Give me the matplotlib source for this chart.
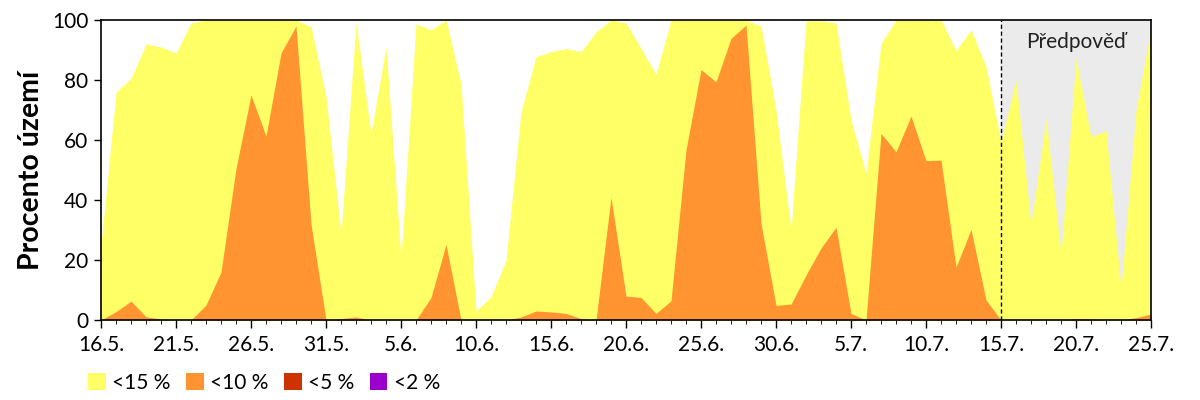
import numpy as np
import pandas as pd
import matplotlib
matplotlib.use("Agg")
import matplotlib.pyplot as plt
from matplotlib.patches import Patch

plt.rcParams["font.family"] = ["Lato", "DejaVu Sans"]

# daily values 16.5. - 25.7.
start_date = "2024-05-16"
forecast_start = 60  # index of 15.7.

below15 = [25, 76, 80.5, 92, 91, 89, 99, 100, 100, 100, 100, 100, 100, 100, 97.8, 74.4,
           28.7, 99.1, 62.2, 91, 20.6, 98.7, 96.7, 100, 78.7, 3, 7.8, 20, 69.4, 87.8,
           89.4, 90.5, 89.4, 96, 100, 99, 90.5, 81.9, 100, 100, 100, 100, 100, 100, 98,
           70, 30, 99.7, 99.7, 99, 66.7, 48.9, 92.2, 100, 100, 100, 100, 89.8, 96.7, 84.4,
           59.4, 80, 31.7, 67.2, 22.2, 87.2, 61.1, 63.1, 10.6, 70, 97.2]
below10 = [0, 2.8, 6.3, 1.1, 0.3, 0, 0, 5, 16, 50.5, 75, 61.3, 89, 98, 32, 0,
           0.5, 1, 0, 0, 0, 0, 7.5, 25.2, 0, 0, 0, 0, 1, 3,
           2.7, 2.2, 0.5, 0, 40.9, 8, 7.5, 2.2, 6.4, 56.7, 83.5, 79.4, 93.9, 98.3, 32.2,
           4.9, 5.3, 15, 24, 30.9, 2.2, 0, 62.2, 56.1, 68, 53.1, 53.3, 17.6, 30.2, 6.7,
           0, 0, 0, 0, 0, 0.5, 0.3, 0, 0, 0.8, 2]

labels = ["<15 %", "<10 %", "<5 %", "<2 %"]
colors = ["#FFFF66", "#FF9430", "#CC3300", "#9900CC"]

dates = pd.date_range(start_date, periods=len(below15))
days = np.arange(len(dates))

fig = plt.figure(figsize=(12, 4), dpi=100)
ax = fig.add_axes([101 / 1200, 80 / 400, 1050 / 1200, 300 / 400])

# forecast background
ax.axvspan(forecast_start, days[-1], color="#EBEBEB", lw=0, zorder=0)
ax.axvline(forecast_start, color="black", ls=(0, (3, 2)), lw=1, zorder=3)
ax.text((forecast_start + days[-1]) / 2, 92.5, "Předpověď", ha="center", va="center",
        fontsize=15, color="#222222", zorder=4)

ax.fill_between(days, 0, below15, color=colors[0], lw=0, zorder=1)
ax.fill_between(days, 0, below10, color=colors[1], lw=0, zorder=2)

ax.set_xlim(days[0], days[-1])
ax.set_ylim(0, 100)
ax.set_yticks(range(0, 101, 20))
major = days[::5]
ax.set_xticks(major)
ax.set_xticklabels([f"{d.day}.{d.month}." for d in dates[::5]])
ax.set_xticks(days, minor=True)
ax.tick_params(axis="both", labelsize=15, direction="out", width=1)
ax.tick_params(axis="x", which="major", length=6, pad=5)
ax.tick_params(axis="x", which="minor", length=3)
ax.tick_params(axis="y", length=5, pad=4)
for s in ax.spines.values():
    s.set_linewidth(1.2)
ax.set_ylabel("Procento území", fontsize=20.5, fontweight="bold", labelpad=6)

handles = [Patch(facecolor=c, edgecolor="none") for c in colors]
fig.legend(handles, labels, loc="center left", bbox_to_anchor=(88 / 1200, 0.043),
           ncol=4, frameon=False, fontsize=15, handlelength=0.85, handleheight=0.85,
           handletextpad=0.3, columnspacing=0.75, borderpad=0, borderaxespad=0)

fig.savefig("out.png", dpi=100)
